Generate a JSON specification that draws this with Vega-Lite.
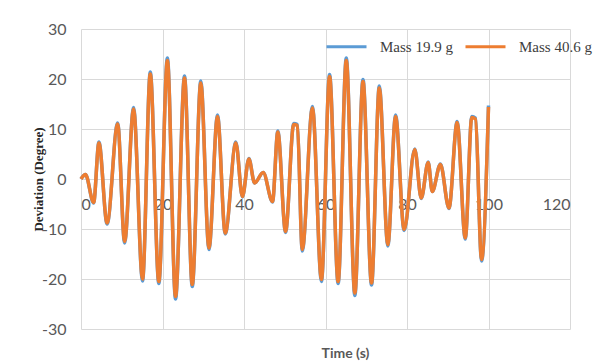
{
  "$schema": "https://vega.github.io/schema/vega-lite/v6.json",
  "width": 489,
  "height": 300,
  "autosize": {"type": "none"},
  "padding": {"left": 81, "top": 29, "right": 25, "bottom": 32},
  "background": "white",
  "config": {
    "view": {"stroke": null},
    "axis": {"domain": false, "ticks": false, "gridColor": "#d9d9d9", "gridWidth": 1, "labelFont": "Lato", "labelFontSize": 16, "labelColor": "#595959", "labelExpr": "'' + datum.value"}
  },
  "datasets": {
    "series": [
      {"t": 0, "v": 0, "s": "Mass 19.9 g"},
      {"t": 1.1, "v": 0.9, "s": "Mass 19.9 g"},
      {"t": 3.1, "v": -4.8, "s": "Mass 19.9 g"},
      {"t": 4.4, "v": 7.4, "s": "Mass 19.9 g"},
      {"t": 6.4, "v": -9.0, "s": "Mass 19.9 g"},
      {"t": 9.0, "v": 11.2, "s": "Mass 19.9 g"},
      {"t": 10.7, "v": -12.8, "s": "Mass 19.9 g"},
      {"t": 12.9, "v": 14.3, "s": "Mass 19.9 g"},
      {"t": 15.1, "v": -20.4, "s": "Mass 19.9 g"},
      {"t": 17.0, "v": 21.4, "s": "Mass 19.9 g"},
      {"t": 19.1, "v": -20.9, "s": "Mass 19.9 g"},
      {"t": 21.2, "v": 24.2, "s": "Mass 19.9 g"},
      {"t": 23.2, "v": -24.0, "s": "Mass 19.9 g"},
      {"t": 25.4, "v": 20.6, "s": "Mass 19.9 g"},
      {"t": 27.3, "v": -21.5, "s": "Mass 19.9 g"},
      {"t": 29.4, "v": 19.6, "s": "Mass 19.9 g"},
      {"t": 31.4, "v": -14.1, "s": "Mass 19.9 g"},
      {"t": 33.5, "v": 12.8, "s": "Mass 19.9 g"},
      {"t": 35.4, "v": -11.0, "s": "Mass 19.9 g"},
      {"t": 38.0, "v": 7.4, "s": "Mass 19.9 g"},
      {"t": 39.6, "v": -3.6, "s": "Mass 19.9 g"},
      {"t": 41.2, "v": 4.1, "s": "Mass 19.9 g"},
      {"t": 42.6, "v": -0.8, "s": "Mass 19.9 g"},
      {"t": 44.7, "v": 1.3, "s": "Mass 19.9 g"},
      {"t": 47.0, "v": -4.6, "s": "Mass 19.9 g"},
      {"t": 48.3, "v": 9.6, "s": "Mass 19.9 g"},
      {"t": 50.2, "v": -10.7, "s": "Mass 19.9 g"},
      {"t": 52.2, "v": 11.1, "s": "Mass 19.9 g"},
      {"t": 53.1, "v": 10.9, "s": "Mass 19.9 g"},
      {"t": 54.3, "v": -14.4, "s": "Mass 19.9 g"},
      {"t": 56.8, "v": 14.5, "s": "Mass 19.9 g"},
      {"t": 59.0, "v": -20.5, "s": "Mass 19.9 g"},
      {"t": 61.0, "v": 20.9, "s": "Mass 19.9 g"},
      {"t": 63.1, "v": -20.9, "s": "Mass 19.9 g"},
      {"t": 65.1, "v": 24.2, "s": "Mass 19.9 g"},
      {"t": 67.2, "v": -23.3, "s": "Mass 19.9 g"},
      {"t": 69.2, "v": 19.9, "s": "Mass 19.9 g"},
      {"t": 71.3, "v": -21.2, "s": "Mass 19.9 g"},
      {"t": 73.2, "v": 18.6, "s": "Mass 19.9 g"},
      {"t": 75.3, "v": -13.4, "s": "Mass 19.9 g"},
      {"t": 77.2, "v": 12.8, "s": "Mass 19.9 g"},
      {"t": 79.3, "v": -10.3, "s": "Mass 19.9 g"},
      {"t": 81.9, "v": 6.0, "s": "Mass 19.9 g"},
      {"t": 83.5, "v": -3.9, "s": "Mass 19.9 g"},
      {"t": 85.2, "v": 3.4, "s": "Mass 19.9 g"},
      {"t": 86.2, "v": -2.5, "s": "Mass 19.9 g"},
      {"t": 88.2, "v": 3.0, "s": "Mass 19.9 g"},
      {"t": 90.3, "v": -5.9, "s": "Mass 19.9 g"},
      {"t": 92.3, "v": 11.5, "s": "Mass 19.9 g"},
      {"t": 94.3, "v": -12.0, "s": "Mass 19.9 g"},
      {"t": 95.9, "v": 12.5, "s": "Mass 19.9 g"},
      {"t": 96.8, "v": 12.2, "s": "Mass 19.9 g"},
      {"t": 98.3, "v": -16.4, "s": "Mass 19.9 g"},
      {"t": 100.0, "v": 14.7, "s": "Mass 19.9 g"},
      {"t": 0, "v": 0, "s": "Mass 40.6 g"},
      {"t": 1.1, "v": 0.9, "s": "Mass 40.6 g"},
      {"t": 3.1, "v": -4.7, "s": "Mass 40.6 g"},
      {"t": 4.4, "v": 7.2, "s": "Mass 40.6 g"},
      {"t": 6.4, "v": -8.8, "s": "Mass 40.6 g"},
      {"t": 9.0, "v": 11.0, "s": "Mass 40.6 g"},
      {"t": 10.7, "v": -12.5, "s": "Mass 40.6 g"},
      {"t": 12.9, "v": 14.0, "s": "Mass 40.6 g"},
      {"t": 15.1, "v": -20.0, "s": "Mass 40.6 g"},
      {"t": 17.0, "v": 21.0, "s": "Mass 40.6 g"},
      {"t": 19.1, "v": -20.5, "s": "Mass 40.6 g"},
      {"t": 21.2, "v": 23.7, "s": "Mass 40.6 g"},
      {"t": 23.2, "v": -23.5, "s": "Mass 40.6 g"},
      {"t": 25.4, "v": 20.2, "s": "Mass 40.6 g"},
      {"t": 27.3, "v": -21.1, "s": "Mass 40.6 g"},
      {"t": 29.4, "v": 19.2, "s": "Mass 40.6 g"},
      {"t": 31.4, "v": -13.8, "s": "Mass 40.6 g"},
      {"t": 33.5, "v": 12.5, "s": "Mass 40.6 g"},
      {"t": 35.4, "v": -10.8, "s": "Mass 40.6 g"},
      {"t": 38.0, "v": 7.2, "s": "Mass 40.6 g"},
      {"t": 39.6, "v": -3.5, "s": "Mass 40.6 g"},
      {"t": 41.2, "v": 4.0, "s": "Mass 40.6 g"},
      {"t": 42.6, "v": -0.8, "s": "Mass 40.6 g"},
      {"t": 44.7, "v": 1.3, "s": "Mass 40.6 g"},
      {"t": 47.0, "v": -4.5, "s": "Mass 40.6 g"},
      {"t": 48.3, "v": 9.4, "s": "Mass 40.6 g"},
      {"t": 50.2, "v": -10.5, "s": "Mass 40.6 g"},
      {"t": 52.2, "v": 10.9, "s": "Mass 40.6 g"},
      {"t": 53.1, "v": 10.7, "s": "Mass 40.6 g"},
      {"t": 54.3, "v": -14.1, "s": "Mass 40.6 g"},
      {"t": 56.8, "v": 14.2, "s": "Mass 40.6 g"},
      {"t": 59.0, "v": -20.1, "s": "Mass 40.6 g"},
      {"t": 61.0, "v": 20.5, "s": "Mass 40.6 g"},
      {"t": 63.1, "v": -20.5, "s": "Mass 40.6 g"},
      {"t": 65.1, "v": 23.7, "s": "Mass 40.6 g"},
      {"t": 67.2, "v": -22.8, "s": "Mass 40.6 g"},
      {"t": 69.2, "v": 19.5, "s": "Mass 40.6 g"},
      {"t": 71.3, "v": -20.8, "s": "Mass 40.6 g"},
      {"t": 73.2, "v": 18.2, "s": "Mass 40.6 g"},
      {"t": 75.3, "v": -13.1, "s": "Mass 40.6 g"},
      {"t": 77.2, "v": 12.5, "s": "Mass 40.6 g"},
      {"t": 79.3, "v": -10.1, "s": "Mass 40.6 g"},
      {"t": 81.9, "v": 5.9, "s": "Mass 40.6 g"},
      {"t": 83.5, "v": -3.8, "s": "Mass 40.6 g"},
      {"t": 85.2, "v": 3.3, "s": "Mass 40.6 g"},
      {"t": 86.2, "v": -2.5, "s": "Mass 40.6 g"},
      {"t": 88.2, "v": 2.9, "s": "Mass 40.6 g"},
      {"t": 90.3, "v": -5.8, "s": "Mass 40.6 g"},
      {"t": 92.3, "v": 11.3, "s": "Mass 40.6 g"},
      {"t": 94.3, "v": -11.8, "s": "Mass 40.6 g"},
      {"t": 95.9, "v": 12.3, "s": "Mass 40.6 g"},
      {"t": 96.8, "v": 12.0, "s": "Mass 40.6 g"},
      {"t": 98.3, "v": -16.1, "s": "Mass 40.6 g"},
      {"t": 100.0, "v": 14.4, "s": "Mass 40.6 g"}
    ]
  },
  "data": {"name": "series"},
  "encoding": {
    "x": {
      "field": "t", "type": "quantitative",
      "scale": {"domain": [0, 120], "nice": false},
      "axis": {"values": [0, 20, 40, 60, 80, 100, 120], "offset": -150, "labelPadding": 17, "title": "Time (s)", "titleFont": "Lato", "titleFontWeight": "bold", "titleFontSize": 14, "titleColor": "#595959", "titleX": 264, "titleY": 174, "titleBaseline": "middle", "titleAlign": "center", "titleAnchor": null}
    },
    "y": {
      "field": "v", "type": "quantitative",
      "scale": {"domain": [-30, 30], "nice": false},
      "axis": {"values": [-30, -20, -10, 0, 10, 20, 30], "labelPadding": 15, "title": "Deviation  (Degree)", "titleFont": "Liberation Serif", "titleFontWeight": "bold", "titleFontSize": 13, "titleColor": "#262626", "titleX": -43, "titleY": 150, "titleAngle": 270, "titleAlign": "center", "titleBaseline": "middle", "titleAnchor": null}
    },
    "color": {
      "field": "s", "type": "nominal",
      "scale": {"domain": ["Mass 19.9 g", "Mass 40.6 g"], "range": ["#5b9bd5", "#ed7d31"]},
      "legend": {"title": null, "orient": "none", "legendX": 244, "legendY": -4, "direction": "horizontal", "symbolType": "stroke", "symbolSize": 1600, "symbolStrokeWidth": 3, "labelFont": "Liberation Serif", "labelFontSize": 15, "labelColor": "#404040", "labelOffset": 12, "columnPadding": 6, "padding": 0, "labelLimit": 200}
    }
  },
  "layer": [
    {"transform": [{"filter": "datum.s === 'Mass 19.9 g'"}], "mark": {"type": "line", "interpolate": "monotone", "strokeWidth": 3.5}},
    {"transform": [{"filter": "datum.s === 'Mass 40.6 g'"}], "mark": {"type": "line", "interpolate": "monotone", "strokeWidth": 3.5}}
  ]
}
